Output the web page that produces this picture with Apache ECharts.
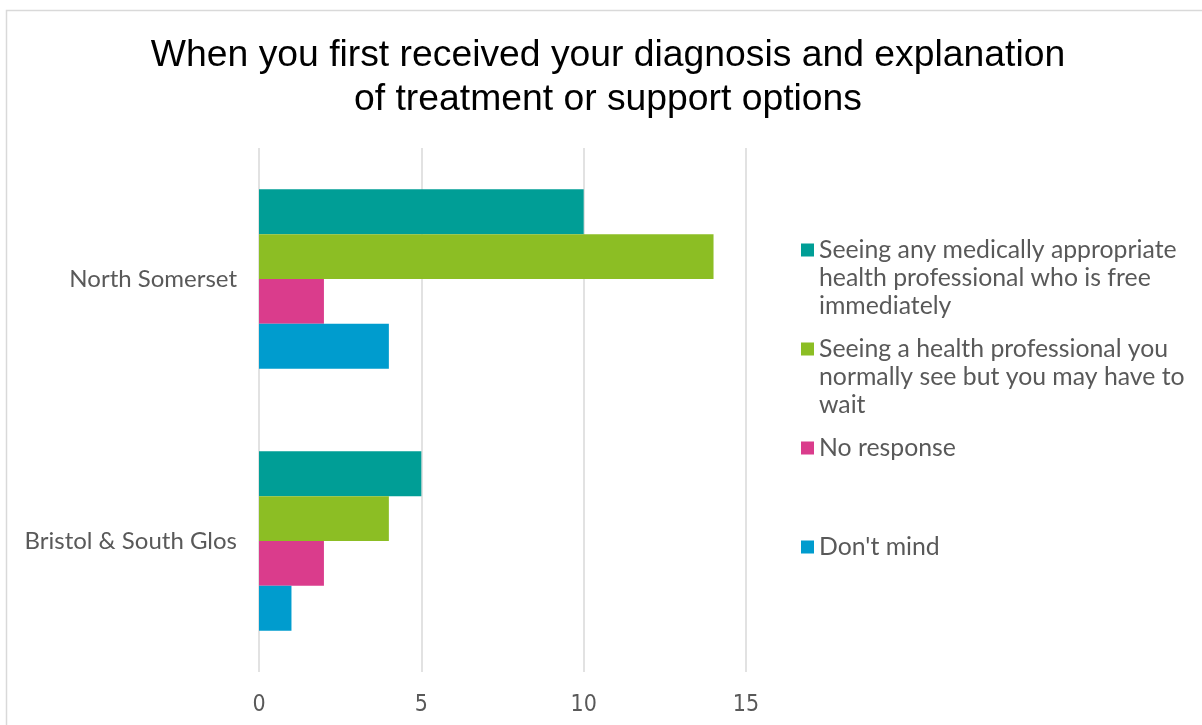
<!DOCTYPE html>
<html>
<head>
<meta charset="utf-8">
<title>Diagnosis and explanation of treatment or support options</title>
<script src="https://cdn.jsdelivr.net/npm/echarts@6/dist/echarts.min.js"></script>
<style>
  html, body { margin: 0; padding: 0; background: #fff; }
  #chart { width: 1202px; height: 725px; }
</style>
</head>
<body>
<div id="chart"></div>
<script>
// Areas (drawn top to bottom)
const areas = ['North Somerset', 'Bristol & South Glos'];

// Response options
const seriesNames = [
  'Seeing any medically appropriate health professional who is free immediately',
  'Seeing a health professional you normally see but you may have to wait',
  'No response',
  "Don't mind"
];

// Legend text, wrapped onto lines
const legendLines = [
  ['Seeing any medically appropriate', 'health professional who is free', 'immediately'],
  ['Seeing a health professional you', 'normally see but you may have to', 'wait'],
  ['No response'],
  ["Don't mind"]
];

// Counts per option, one value per area
const freeImmediately = [10, 5];
const usualProfessional = [14, 4];
const noResponse = [2, 2];
const dontMind = [4, 1];

const seriesValues = [freeImmediately, usualProfessional, noResponse, dontMind];
const seriesColors = ['#009E96', '#8CBE24', '#DA3C8C', '#009CCE'];

// Value axis ticks
const xTicks = [0, 5, 10, 15];

const chart = echarts.init(document.getElementById('chart'), null, { renderer: 'canvas' });

// Legend icon: square at the top of a tall item so it sits beside the first text line
const LINE_H = 28;
const ITEM_H = LINE_H * 3;
const legendIcon = 'path://M0,7.5h13v13h-13z M0,0L0.001,0 M0,' + ITEM_H + 'L0.001,' + ITEM_H;

const option = {
  backgroundColor: '#ffffff',
  animation: false,
  title: {
    text: 'When you first received your diagnosis and explanation\nof treatment or support options',
    left: 608,
    top: 34,
    padding: 0,
    textAlign: 'center',
    textStyle: {
      fontFamily: 'Liberation Sans, Arial, sans-serif',
      fontSize: 37.3,
      fontWeight: 'normal',
      color: '#000000',
      lineHeight: 44
    }
  },
  graphic: [{
    type: 'rect',
    silent: true,
    z: -10,
    shape: { x: 6.5, y: 10.5, width: 1400, height: 900 },
    style: { fill: 'none', stroke: '#d9d9d9', lineWidth: 1.5 }
  }],
  legend: {
    orient: 'vertical',
    left: 801,
    top: 236,
    padding: 0,
    itemWidth: 13,
    itemHeight: ITEM_H,
    itemGap: 15,
    icon: legendIcon,
    selectedMode: false,
    data: seriesNames,
    formatter: function (name) {
      const lines = legendLines[seriesNames.indexOf(name)].slice();
      while (lines.length < 3) lines.push(' ');
      return lines.join('\n');
    },
    textStyle: {
      fontFamily: 'Lato, sans-serif',
      fontSize: 24.8,
      color: '#595959',
      lineHeight: LINE_H
    }
  },
  grid: {
    left: 259,
    right: 456,
    top: 148,
    bottom: 53,
    containLabel: false
  },
  xAxis: {
    type: 'value',
    min: xTicks[0],
    max: xTicks[xTicks.length - 1],
    interval: xTicks[1] - xTicks[0],
    axisLine: { show: false },
    axisTick: { show: false },
    splitLine: { show: true, lineStyle: { color: '#d9d9d9', width: 1.5 } },
    axisLabel: {
      margin: 22,
      fontFamily: 'Liberation Sans Narrow, DejaVu Sans Condensed, sans-serif',
      fontSize: 23,
      color: '#595959'
    }
  },
  yAxis: {
    type: 'category',
    data: areas,
    inverse: true,
    axisLine: { show: false },
    axisTick: { show: false },
    splitLine: { show: false },
    axisLabel: {
      margin: 22,
      fontFamily: 'Lato, sans-serif',
      fontSize: 24,
      color: '#595959'
    }
  },
  series: seriesNames.map(function (name, i) {
    return {
      name: name,
      type: 'bar',
      data: seriesValues[i],
      barGap: '0%',
      barCategoryGap: '31.5%',
      itemStyle: { color: seriesColors[i] }
    };
  })
};

chart.setOption(option);
</script>
</body>
</html>
